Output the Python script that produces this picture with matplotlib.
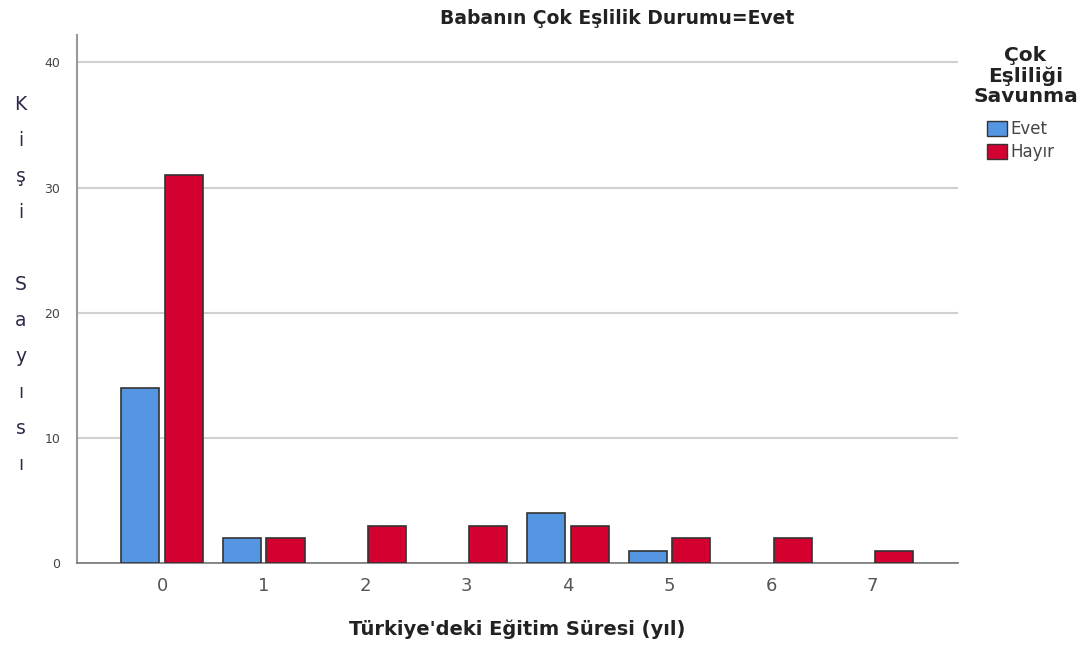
import numpy as np
import matplotlib.pyplot as plt

years = [0, 1, 2, 3, 4, 5, 6, 7]
evet = [14, 2, 0, 0, 4, 1, 0, 0]
hayir = [31, 2, 3, 3, 3, 2, 2, 1]
y_letters = ['K', 'i', 'ş', 'i', '', 'S', 'a', 'y', 'ı', 's', 'ı']

blue = '#5596E2'
red = '#D40030'

fig = plt.figure(figsize=(10.92, 6.45), dpi=100)
ax = fig.add_axes([0.0705, 0.127, 0.8065, 0.819])

x = np.arange(len(years))
w = 0.375
for xi, v in zip(x, evet):
    if v > 0:
        ax.bar(xi - 0.215, v, w, color=blue, edgecolor='#333333', linewidth=1.2, zorder=3)
for xi, v in zip(x, hayir):
    if v > 0:
        ax.bar(xi + 0.215, v, w, color=red, edgecolor='#333333', linewidth=1.2, zorder=3)

ax.set_xlim(-0.84, 7.84)
ax.set_ylim(0, 42.2)
ax.set_yticks([0, 10, 20, 30, 40])
ax.set_xticks(x)
ax.set_xticklabels([str(y) for y in years])
ax.tick_params(axis='x', length=0, labelsize=13, labelcolor='#555555', pad=10)
ax.tick_params(axis='y', length=0, labelsize=9, labelcolor='#444444', pad=12)
ax.grid(axis='y', color='#d0d0d0', linewidth=1.5, zorder=0)
for s in ['top', 'right']:
    ax.spines[s].set_visible(False)
ax.spines['left'].set_color('#999999')
ax.spines['left'].set_linewidth(1.5)
ax.spines['bottom'].set_color('#777777')
ax.spines['bottom'].set_linewidth(1.2)

ax.set_xlabel("Türkiye'deki Eğitim Süresi (yıl)", fontsize=14, fontweight='bold',
              labelpad=18, color='#222222')

fig.text(0.565, 0.972, 'Babanın Çok Eşlilik Durumu=Evet', ha='center', va='center',
         fontsize=13.5, fontweight='bold', color='#222222')

# vertical letter-by-letter y label
for i, ch in enumerate(y_letters):
    fig.text(0.019, 1 - (105 + i * 36) / 645, ch, ha='center', va='center',
             fontsize=13.5, color='#2a2a4a')

# legend title
fig.text(0.939, 1 - 76 / 645, 'Çok\nEşliliği\nSavunma', ha='center', va='center',
         fontsize=14.5, fontweight='bold', color='#222222', linespacing=1.05)

handles = [plt.Rectangle((0, 0), 1, 1, facecolor=blue, edgecolor='#333333'),
           plt.Rectangle((0, 0), 1, 1, facecolor=red, edgecolor='#333333')]
leg = fig.legend(handles, ['Evet', 'Hayır'],
                 loc='upper left', bbox_to_anchor=(0.904, 1 - 120 / 645), frameon=False,
                 fontsize=12, handlelength=1.2, handleheight=1.0, handletextpad=0.2,
                 labelspacing=0.3, borderaxespad=0, borderpad=0)
for t in leg.get_texts():
    t.set_color('#444444')

fig.savefig('out.png', dpi=100)
